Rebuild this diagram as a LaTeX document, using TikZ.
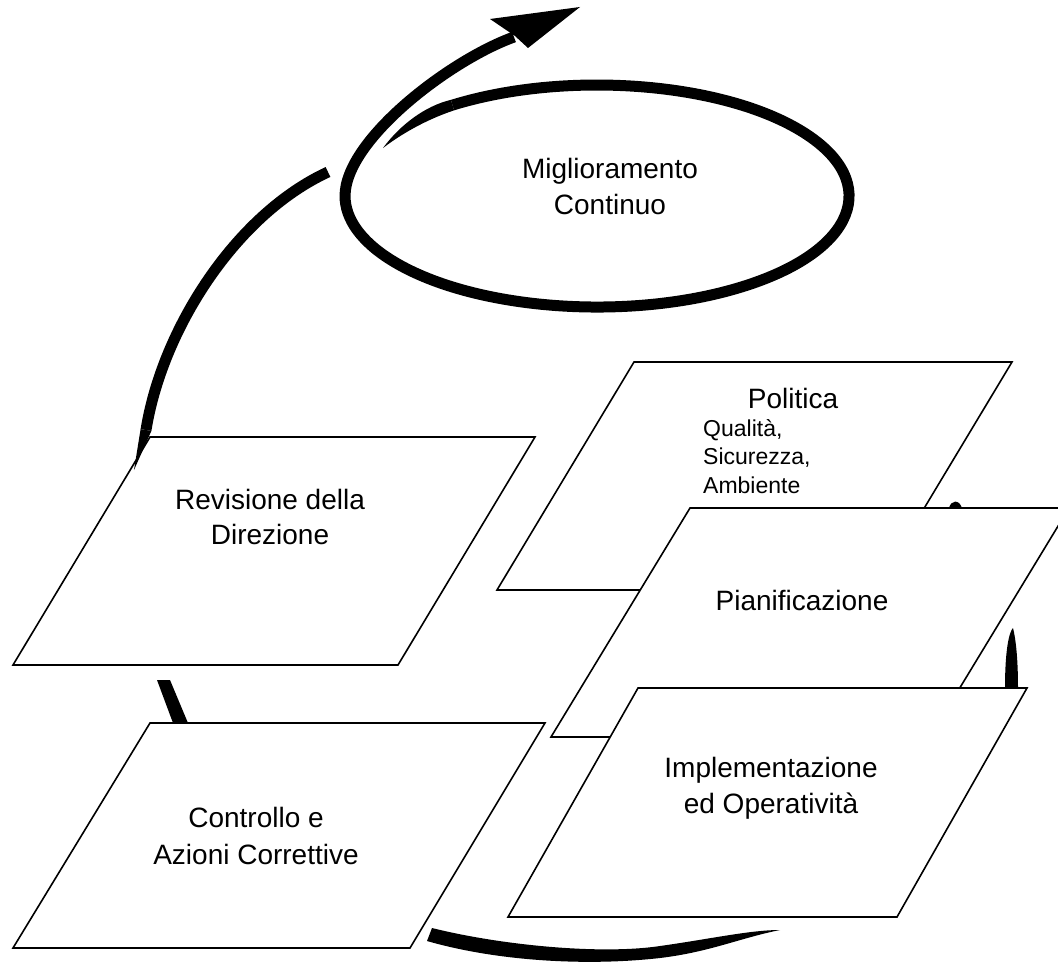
\documentclass[tikz,border=0pt]{standalone}
\usepackage{fontspec}
\setmainfont{Liberation Sans}
\begin{document}
\begin{tikzpicture}[x=1pt,y=1pt,
  box/.style={draw=black, line width=1.6pt, fill=white, line join=miter},
  lbl/.style={font=\fontsize{28}{36}\selectfont, align=center, inner sep=0pt},
  sublbl/.style={font=\fontsize{23}{28.5}\selectfont, align=left, inner sep=0pt, anchor=west},
  bigstroke/.style={line width=11pt, line cap=butt},
  blob/.style={fill=black}
]
\useasboundingbox (0,0) rectangle (1058,-966);
\fill[white] (0,0) rectangle (1058,-966);
\begin{scope}
\clip (0,0) rectangle (1058,-966);

% ---- corner coordinates
\coordinate (pol1) at (634,-362); \coordinate (pol2) at (1012,-362);
\coordinate (pol3) at (875,-590); \coordinate (pol4) at (497,-590);
\coordinate (pia1) at (690,-508); \coordinate (pia2) at (1069,-508);
\coordinate (pia3) at (930,-737); \coordinate (pia4) at (551,-737);
\coordinate (imp1) at (638,-688); \coordinate (imp2) at (1027,-688);
\coordinate (imp3) at (897,-917); \coordinate (imp4) at (508,-917);
\coordinate (rev1) at (150,-437); \coordinate (rev2) at (535,-437);
\coordinate (rev3) at (398,-665); \coordinate (rev4) at (13,-665);
\coordinate (con1) at (150,-723); \coordinate (con2) at (545,-723);
\coordinate (con3) at (410,-948); \coordinate (con4) at (13,-948);

% ---- ellipse "Miglioramento Continuo" with its outgoing arrow
\fill (383,-148) .. controls (400,-125) and (425,-106) .. (450.9,-99.85)
  -- (454.1,-110.35) .. controls (425,-120) and (400,-135) .. (383,-148) -- cycle;
\draw[bigstroke] (452.5,-105.1) arc[start angle=125, end angle=-180, x radius=252, y radius=111]
  .. controls (345,-140) and (450,-60) .. (514,-37);
\coordinate (headback) at (515,-36);
\fill (490,-19) -- (580,-7) -- (528,-48) -- (headback) -- cycle;
\node[lbl, text depth=0pt] (migl) at (610,-186) {\fontsize{28}{47}\selectfont Miglioramento\\Continuo};

% ---- Politica
\draw[box] (pol1) -- (pol2) -- (pol3) -- (pol4) -- cycle;
\node[lbl] (pol) at (793,-398) {Politica};
\node[sublbl] (polsub) at (703,-456.5) {Qualità,\\Sicurezza,\\Ambiente};
\fill (949,-508) .. controls (951,-500) and (959,-499) .. (962,-508) -- cycle;

% ---- Pianificazione
\draw[box] (pia1) -- (pia2) -- (pia3) -- (pia4) -- cycle;
\node[lbl] (pia) at (802,-600) {Pianificazione};
\fill (1005,-688) .. controls (1005,-650) and (1009,-632) .. (1013,-628)
  .. controls (1016,-640) and (1018,-660) .. (1018,-688) -- cycle;

% ---- Implementazione
\draw[box] (imp1) -- (imp2) -- (imp3) -- (imp4) -- cycle;
\node[lbl] (imp) at (771,-788) {Implementazione\\ed Operatività};

% ---- Revisione della Direzione
\draw[box] (rev1) -- (rev2) -- (rev3) -- (rev4) -- cycle;
\node[lbl, font=\fontsize{28}{35}\selectfont] (rev) at (270,-517) {Revisione della\\Direzione};
% arrow from Revisione up to the ellipse
\draw[bigstroke] (146,-430) .. controls (162,-330) and (235,-215) .. (328,-172);
\fill (134,-470) -- (151.4,-430.9) -- (140.6,-429.1) -- cycle;

% ---- link Revisione / Controllo
\fill (157,-680) -- (170,-680) -- (188,-723) -- (173,-723) -- cycle;

% ---- Controllo e Azioni Correttive
\draw[box] (con1) -- (con2) -- (con3) -- (con4) -- cycle;
\node[lbl, font=\fontsize{28}{37}\selectfont] (con) at (256,-836) {Controllo e\\Azioni Correttive};

% ---- bottom arrow from Implementazione to Controllo
\fill (432,-928) .. controls (500,-945) and (600,-955) .. (660,-946)
  .. controls (710,-939) and (750,-930) .. (780,-930)
  .. controls (740,-938) and (710,-952) .. (660,-958)
  .. controls (590,-966) and (500,-962) .. (427,-941) -- cycle;
\end{scope}
\end{tikzpicture}
\end{document}
